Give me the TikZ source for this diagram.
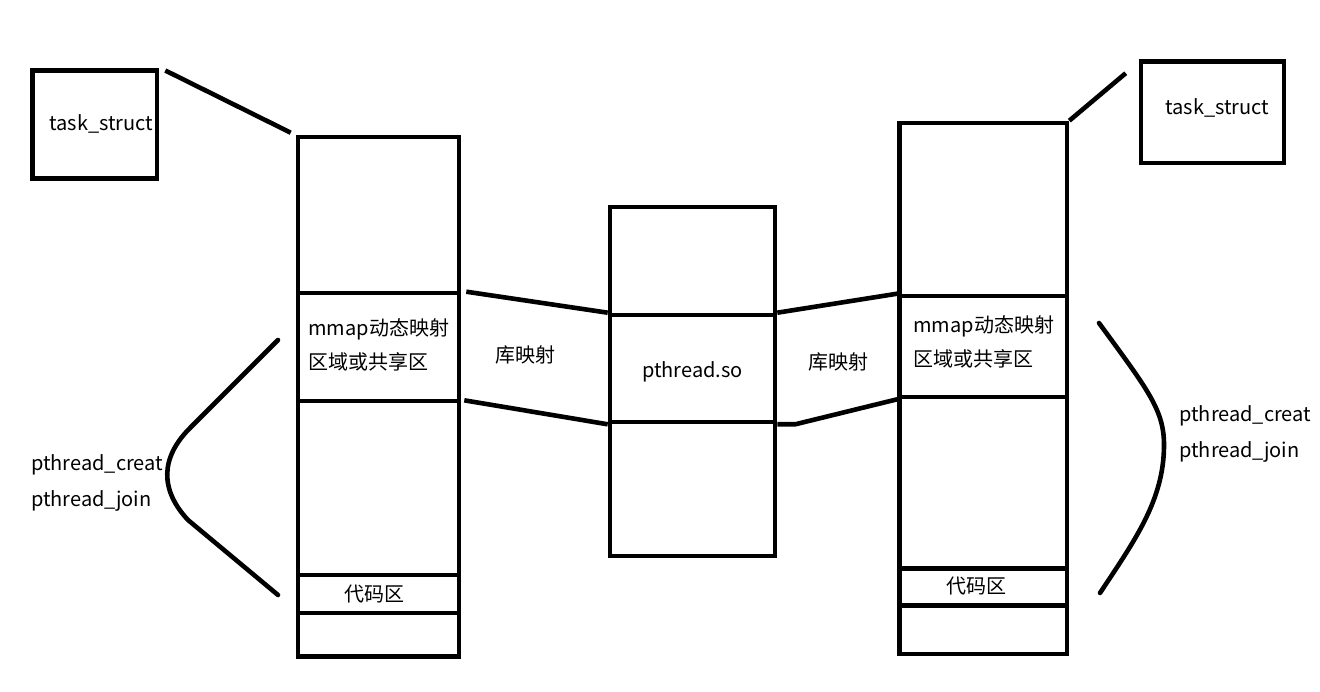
\documentclass[tikz,border=0pt]{standalone}
\usepackage{fontspec}
\setmainfont{Noto Sans CJK SC}
\usetikzlibrary{calc}
\begin{document}
\begin{tikzpicture}[x=1pt,y=-1pt,
  every path/.style={line width=4.6pt},
  blk/.style={draw, rectangle, inner sep=0pt, line width=4.6pt, line join=miter},
  lbl/.style={inner sep=0pt, font=\fontsize{20}{34}\selectfont, align=left},
  lbl2/.style={inner sep=0pt, font=\fontsize{20}{36}\selectfont, align=left}]
\useasboundingbox (0,0) rectangle (1320,692);
% left task_struct
\node[blk, minimum width=124.5pt, minimum height=107.7pt] (lt) at (94.75,124.65) {};
\node[lbl, anchor=base west] (ltx) at (47,131) {task\_struct};
% right task_struct
\node[blk, minimum width=143pt, minimum height=101.5pt] (rt) at (1212.5,112.25) {};
\node[lbl, anchor=base west] (rtx) at (1163,115) {task\_struct};
% left stack
\node[blk, minimum width=161pt, minimum height=156pt] (L1) at (378.5,215) {};
\node[blk, minimum width=161pt, minimum height=108pt] (L2) at (378.5,347) {};
\node[blk, minimum width=161pt, minimum height=174pt] (L3) at (378.5,488) {};
\node[blk, minimum width=161pt, minimum height=38pt] (L4) at (378.5,594) {};
\node[blk, minimum width=161pt, minimum height=43.5pt] (L5) at (378.5,634.75) {};
\node[lbl, anchor=base west] (L2t) at (306,370) {mmap动态映射\\区域或共享区};
\node[lbl, anchor=base] (L4t) at (374,601) {代码区};
% middle stack
\node[blk, minimum width=165pt, minimum height=108pt] (M1) at (692.5,261) {};
\node[blk, minimum width=165pt, minimum height=107pt] (M2) at (692.5,368.5) {};
\node[blk, minimum width=165pt, minimum height=134pt] (M3) at (692.5,489) {};
\node[lbl, anchor=base] (M2t) at (692.5,378) {pthread.so};
% right stack
\node[blk, minimum width=167.5pt, minimum height=173pt] (R1) at (983.25,209.5) {};
\node[blk, minimum width=167.5pt, minimum height=101pt] (R2) at (983.25,346.5) {};
\node[blk, minimum width=167.5pt, minimum height=171.5pt] (R3) at (983.25,482.75) {};
\node[blk, minimum width=167.5pt, minimum height=37pt] (R4) at (983.25,587) {};
\node[blk, minimum width=167.5pt, minimum height=48.5pt] (R5) at (983.25,629.75) {};
\node[lbl, anchor=base west] (R2t) at (911,367) {mmap动态映射\\区域或共享区};
\node[lbl, anchor=base] (R4t) at (976,593) {代码区};
% labels
\node[lbl, anchor=base] (lm) at (525,363) {库映射};
\node[lbl, anchor=base] (rm) at (838.5,370) {库映射};
\node[lbl2, anchor=base west] (lp) at (29,506) {pthread\_creat\\pthread\_join};
\node[lbl2, anchor=base west] (rp) at (1177,457) {pthread\_creat\\pthread\_join};
% connectors
\draw ([xshift=6pt,yshift=-2pt]lt.north east) -- ([xshift=-5pt,yshift=2pt]L1.north west);
\coordinate (rtend) at ($(rt.north west)+(-13,14)$);
\draw (rtend) -- (R1.north east);
\draw ([xshift=5pt,yshift=-1pt]L2.north east) -- (M2.north west);
\draw ([xshift=3pt,yshift=3pt]L2.south east) -- (M2.south west);
\draw (M2.north east) -- (R2.north west);
\draw (M2.south east) -- ++(18,0) -- (R2.south west);
% braces
\coordinate (lb1) at (278,340);
\coordinate (lb2) at (278,595);
\draw[line cap=round] (lb1) -- (190,428) .. controls (160,458) and (160,490) .. (188,520) -- (lb2);
\coordinate (rb1) at (1099,323);
\coordinate (rb2) at (1100,593);
\draw[line cap=round] (rb1) .. controls (1148,390) and (1164,410) .. (1164,445) .. controls (1164,500) and (1135,540) .. (rb2);
\end{tikzpicture}
\end{document}
